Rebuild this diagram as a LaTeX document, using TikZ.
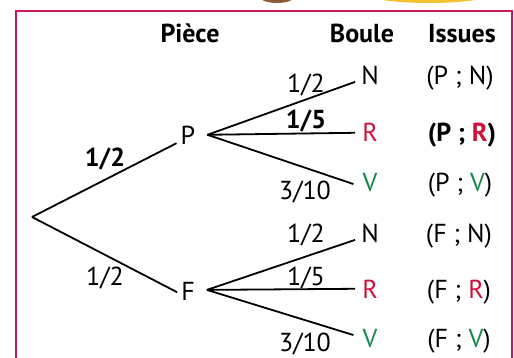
\documentclass[tikz,border=0pt]{standalone}
\usepackage{fontspec}
\setmainfont{PT Sans}
\usetikzlibrary{calc}
\definecolor{frame}{HTML}{C8185A}
\definecolor{rouge}{HTML}{D0103A}
\definecolor{vert}{HTML}{17894A}
\definecolor{brun}{HTML}{8E5B3A}
\definecolor{jaune}{HTML}{F2C230}
\begin{document}
\begin{tikzpicture}[x=1pt,y=-1pt,
  txt/.style={inner sep=0pt,anchor=base,font=\fontsize{26}{30}\selectfont},
  bld/.style={txt,font=\fontsize{26}{30}\selectfont\bfseries},
  branch/.style={line width=1.8pt,black}]
\useasboundingbox (0,0) rectangle (514,358);
% top decorations (cut off)
\begin{scope}
\clip (0,0) rectangle (514,4);
\fill[brun] (277,-4) ellipse [x radius=18pt,y radius=7pt];
\fill[jaune] (429,-6) ellipse [x radius=62pt,y radius=9pt];
\end{scope}
% frame
\draw[frame,line width=2pt] (15.5,358) -- (15.5,11.5) -- (512,11.5) -- (512,358);
% headers
\node[bld] (hP) at (190,43) {Pièce};
\node[bld] (hB) at (362,43) {Boule};
\node[bld] (hI) at (462,43) {Issues};
% tree nodes
\coordinate (root) at (32,217);
\node[txt] (P) at (188,145) {P};
\node[txt] (F) at (188,300) {F};
\node[txt] (N1) at (370,85) {N};
\node[txt,text=rouge] (R1) at (370,142) {R};
\node[txt,text=vert] (V1) at (370,192) {V};
\node[txt] (N2) at (370,243) {N};
\node[txt,text=rouge] (R2) at (370,298) {R};
\node[txt,text=vert] (V2) at (370,347) {V};
\coordinate (Pf) at ($(P.east)+(12,-1)$);
\coordinate (Ff) at ($(F.east)+(12,-1)$);
% branches
\draw[branch] (root) -- ($(P.south west)+(-4,-2)$);
\draw[branch] (root) -- ($(F.south west)+(-4,-8)$);
\draw[branch] (Pf) -- ($(N1.west)+(-6,6)$);
\draw[branch] (Pf) -- ($(R1.west)+(-7,0)$);
\draw[branch] (Pf) -- ($(V1.west)+(-9,1)$);
\draw[branch] (Ff) -- ($(N2.west)+(-6,6)$);
\draw[branch] (Ff) -- ($(R2.west)+(-7,0)$);
\draw[branch] (Ff) -- ($(V2.west)+(-9,-3)$);
% probabilities
\node[bld] (p1) at (105,167) {1/2};
\node[txt] (p2) at (105,285) {1/2};
\node[txt] (pN1) at (306,93) {1/2};
\node[bld] (pR1) at (306,129) {1/5};
\node[txt] (pV1) at (305,200) {3/10};
\node[txt] (pN2) at (306,243) {1/2};
\node[txt] (pR2) at (306,285) {1/5};
\node[txt] (pV2) at (305,351) {3/10};
% issues
\node[txt] (i1) at (460,85) {(P ; N)};
\node[bld] (i2) at (462,142) {(P ; \textcolor{rouge}{R})};
\node[txt] (i3) at (460,192) {(P ; \textcolor{vert}{V})};
\node[txt] (i4) at (459,243) {(F ; N)};
\node[txt] (i5) at (459,298) {(F ; \textcolor{rouge}{R})};
\node[txt] (i6) at (459,347) {(F ; \textcolor{vert}{V})};
\end{tikzpicture}
\end{document}
